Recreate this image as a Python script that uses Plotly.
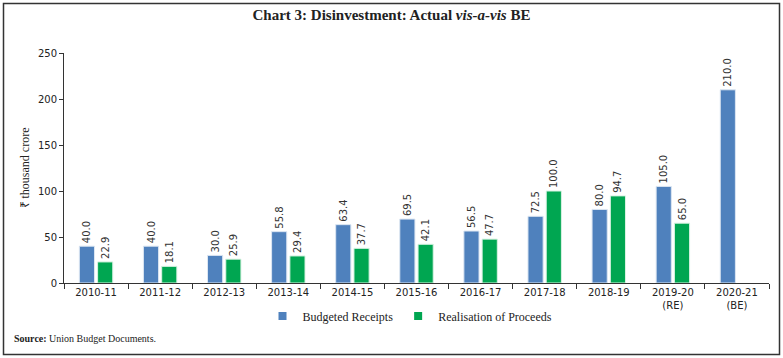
import plotly.graph_objects as go

categories = ["2010-11", "2011-12", "2012-13", "2013-14", "2014-15", "2015-16",
              "2016-17", "2017-18", "2018-19", "2019-20<br>(RE)", "2020-21<br>(BE)"]
budgeted = [40.0, 40.0, 30.0, 55.8, 63.4, 69.5, 56.5, 72.5, 80.0, 105.0, 210.0]
realised = [22.9, 18.1, 25.9, 29.4, 37.7, 42.1, 47.7, 100.0, 94.7, 65.0, None]
series_names = ["Budgeted Receipts", "Realisation of Proceeds"]
series_colors = ["#4F81BD", "#00A651"]

W, H = 783, 358
L, R, T, B = 64, 14, 53, 75
pw, ph = W - L - R, H - T - B

def px_x(px):
    return (px - L) / pw

def px_y(py):
    return (H - B - py) / ph

lab_font = dict(family="DejaVu Sans", size=10, color="#333333")

fig = go.Figure()
for vals, name, col, edge in zip([budgeted, realised], series_names, series_colors,
                                 ["#DCE6F2", "#D9F2E3"]):
    fig.add_trace(go.Bar(
        x=categories, y=vals, name=name, showlegend=False,
        marker=dict(color=col, line=dict(color=edge, width=1)),
        text=[f"{v:.1f}" if v is not None else "" for v in vals], textposition="outside",
        textangle=-90, textfont=lab_font, cliponaxis=False, constraintext="none",
    ))
for name, col in zip(series_names, series_colors):
    fig.add_trace(go.Scatter(
        x=[None], y=[None], mode="markers", name=name,
        marker=dict(symbol="square", size=8, color=col),
    ))

fig.update_layout(
    width=W, height=H,
    margin=dict(l=L, r=R, t=T, b=B),
    paper_bgcolor="white", plot_bgcolor="white",
    barmode="group", bargap=0.43, bargroupgap=0.17,
    title=dict(text="<b>Chart 3: Disinvestment: Actual <i>vis-a-vis</i> BE</b>",
               x=0.5, xanchor="center", y=1 - 15 / H, yanchor="middle",
               font=dict(family="Liberation Serif", size=15, color="#222222")),
    legend=dict(orientation="h", x=px_x(410), xanchor="center", y=px_y(316), yanchor="middle",
                font=dict(family="Liberation Serif", size=12, color="#222222"),
                itemwidth=30, traceorder="normal", tracegroupgap=0),
    xaxis=dict(type="category", showline=True, linecolor="#333333", linewidth=1,
               ticks="outside", ticklen=5, tickcolor="#333333", tickson="boundaries",
               tickfont=dict(family="DejaVu Sans", size=10, color="#222222"),
               showgrid=False),
    yaxis=dict(range=[0, 250], dtick=50, showline=True, linecolor="#333333", linewidth=1,
               ticks="outside", ticklen=4, tickcolor="#333333", showgrid=False,
               zeroline=False,
               tickfont=dict(family="DejaVu Sans", size=10, color="#222222"),
               title=dict(text="₹ thousand crore", standoff=5,
                          font=dict(family="Liberation Serif", size=12, color="#222222"))),
    showlegend=True,
)

fig.add_shape(type="rect", xref="paper", yref="paper",
              x0=px_x(3.5), x1=px_x(779.5), y0=px_y(354.5), y1=px_y(3.5),
              line=dict(color="#333333", width=1.5), fillcolor="rgba(0,0,0,0)", layer="below")

fig.add_annotation(text="<b>Source:</b> Union Budget Documents.", xref="paper", yref="paper",
                   x=px_x(12), y=px_y(338), xanchor="left", yanchor="middle", showarrow=False,
                   font=dict(family="Liberation Serif", size=10, color="#222222"))

fig.write_html("out.html", config={"displayModeBar": False},
               post_script="document.body.style.margin='0';")
